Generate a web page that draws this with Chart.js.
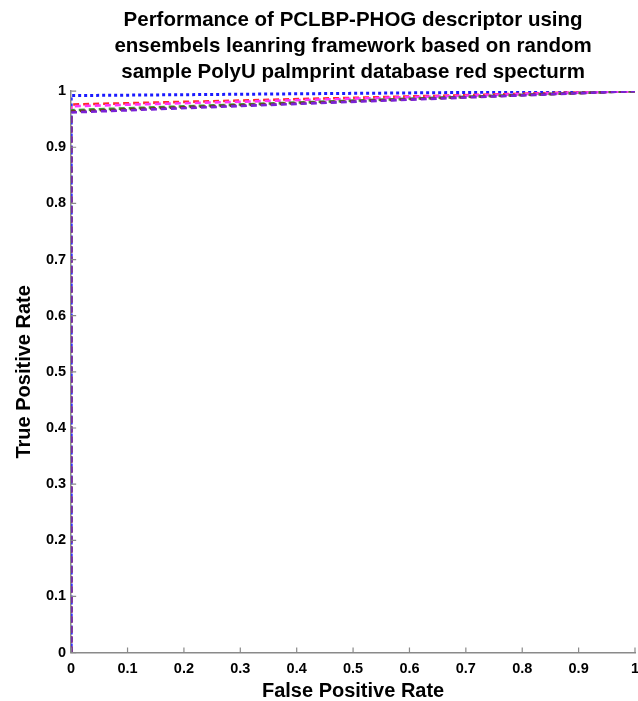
<!DOCTYPE html>
<html>
<head>
<meta charset="utf-8">
<script src="https://cdn.jsdelivr.net/npm/chart.js@4/dist/chart.umd.min.js"></script>
<style>
  html, body { margin: 0; padding: 0; background: #fff; }
  #wrap { width: 638px; height: 701px; }
</style>
</head>
<body>
<div id="wrap"><canvas id="c" width="638" height="701"></canvas></div>
<script>
// ROC curve points: false positive rate (x) and true positive rate (y) per classifier
const fpr = [0, 0, 1];
const tprRed = [0, 0.976, 1];
const tprMagenta = [0, 0.973, 1];
const tprGreen = [0, 0.966, 1];
const tprBrown = [0, 0.964, 1];
const tprPurple = [0, 0.962, 1];
const tprBlue = [0, 0.992, 1];
const xTicks = [0, 0.1, 0.2, 0.3, 0.4, 0.5, 0.6, 0.7, 0.8, 0.9, 1];
const yTicks = [0, 0.1, 0.2, 0.3, 0.4, 0.5, 0.6, 0.7, 0.8, 0.9, 1];
const titleLines = [
  'Performance of PCLBP-PHOG descriptor using',
  'ensembels leanring framework based on random',
  'sample PolyU palmprint database red specturm'
];

const pts = ys => fpr.map((x, i) => ({ x: x, y: ys[i] }));
const ds = (ys, color, dash, w) => ({
  data: pts(ys), borderColor: color, backgroundColor: color,
  borderWidth: w, borderDash: dash, pointRadius: 0, fill: false, tension: 0
});

const inwardTicks = {
  id: 'inwardTicks',
  afterDatasetsDraw(chart) {
    const { ctx, scales: { x, y } } = chart;
    ctx.save();
    ctx.strokeStyle = '#8a8a8a';
    ctx.lineWidth = 1.2;
    ctx.beginPath();
    xTicks.forEach(v => {
      const px = x.getPixelForValue(v);
      ctx.moveTo(px, y.bottom); ctx.lineTo(px, y.bottom - 5);
    });
    yTicks.forEach(v => {
      const py = y.getPixelForValue(v);
      ctx.moveTo(x.left, py); ctx.lineTo(x.left + 5, py);
    });
    ctx.stroke();
    ctx.restore();
  }
};

const fontFam = '"Liberation Sans", Arial, Helvetica, sans-serif';

new Chart(document.getElementById('c'), {
  type: 'line',
  data: {
    datasets: [
      ds(tprPurple, '#7a22d6', [6, 4], 2.6),
      ds(tprBrown, '#6b3a1e', [6, 4], 2.6),
      ds(tprGreen, '#3a9a3a', [6, 4], 2.6),
      ds(tprMagenta, '#ff33ff', [6, 4], 2.6),
      ds(tprRed, '#ff2a2a', [6, 4], 2.6),
      ds(tprBlue, '#1a1aff', [3, 3], 3)
    ]
  },
  options: {
    responsive: false,
    animation: false,
    layout: { padding: { left: 12, right: 3, top: 7, bottom: 0 } },
    plugins: {
      legend: { display: false },
      tooltip: { enabled: false },
      title: {
        display: true,
        fullSize: false,
        text: titleLines,
        color: '#000',
        font: { family: fontFam, size: 20.5, weight: 'bold', lineHeight: 1.27 },
        padding: { top: 0, bottom: 6 }
      }
    },
    scales: {
      x: {
        type: 'linear', min: 0, max: 1,
        afterBuildTicks: s => { s.ticks = xTicks.map(v => ({ value: v })); },
        afterFit: s => { s.paddingRight = 0; },
        ticks: {
          color: '#000', padding: 8, maxRotation: 0,
          font: { family: fontFam, size: 14.5, weight: 'bold' },
          callback: v => String(v)
        },
        grid: { drawOnChartArea: false, drawTicks: false },
        border: { color: '#8a8a8a', width: 1.5 },
        title: {
          display: true, text: 'False Positive Rate', color: '#000',
          font: { family: fontFam, size: 20, weight: 'bold' },
          padding: { top: -7, bottom: -2 }
        }
      },
      y: {
        type: 'linear', min: 0, max: 1,
        afterBuildTicks: s => { s.ticks = yTicks.map(v => ({ value: v })); },
        ticks: {
          color: '#000', padding: 5,
          font: { family: fontFam, size: 14.5, weight: 'bold' },
          callback: v => String(v)
        },
        grid: { drawOnChartArea: false, drawTicks: false },
        border: { color: '#8a8a8a', width: 1.5 },
        title: {
          display: true, text: 'True Positive Rate', color: '#000',
          font: { family: fontFam, size: 20, weight: 'bold' },
          padding: { top: 0, bottom: 5 }
        }
      }
    }
  },
  plugins: [inwardTicks]
});
</script>
</body>
</html>
